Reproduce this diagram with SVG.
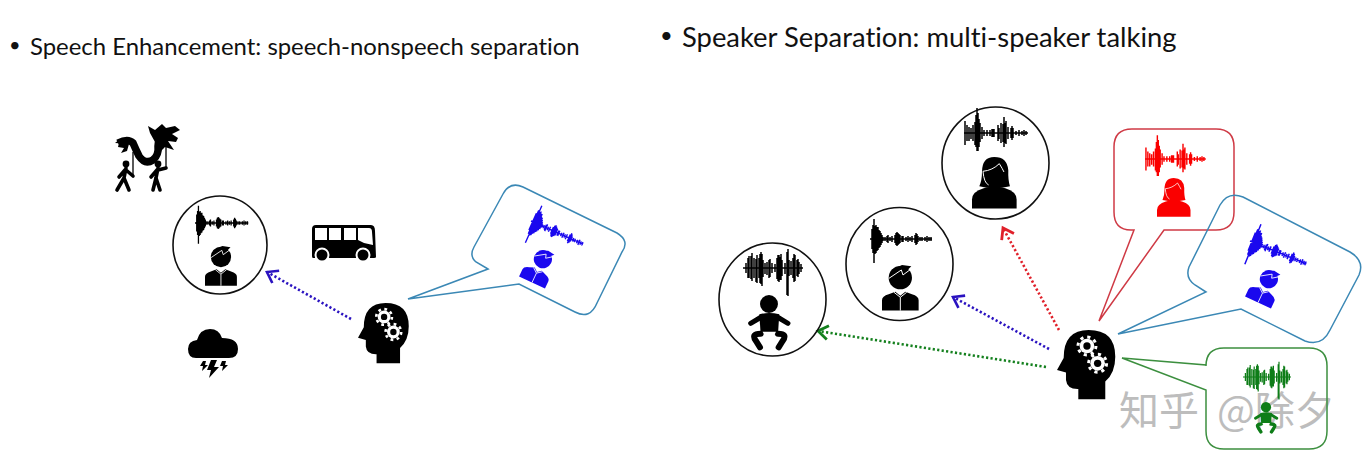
<svg xmlns="http://www.w3.org/2000/svg" width="1366" height="466" viewBox="0 0 1366 466">
<style>
text{font-family:"Lato","Open Sans","Liberation Sans",sans-serif;fill:#111;font-variant-ligatures:none}
.ring{fill:none;stroke:#111;stroke-width:1.6}
.bub{fill:#fff;stroke-width:1.5}
.b{stroke:#3b88b5}.r{stroke:#cf3a45}.g{stroke:#3c8f3f}
.dot{fill:none;stroke-width:2.6;stroke-dasharray:2.2 2.3}
.wv{fill:none;stroke-width:1.5}
.wm{font-family:"Noto Sans CJK SC",sans-serif;font-size:40px;fill:#bdbdbd}
</style>
<defs>
<marker id="ab" markerUnits="userSpaceOnUse" markerWidth="20" markerHeight="20" refX="11" refY="10" orient="auto"><path d="M1,3L11,10L1,17" fill="none" stroke="#2a12c0" stroke-width="2.6"/></marker>
<marker id="ar" markerUnits="userSpaceOnUse" markerWidth="20" markerHeight="20" refX="11" refY="10" orient="auto"><path d="M1,3L11,10L1,17" fill="none" stroke="#e0202a" stroke-width="2.8"/></marker>
<marker id="ag" markerUnits="userSpaceOnUse" markerWidth="20" markerHeight="20" refX="11" refY="10" orient="auto"><path d="M1,3L11,10L1,17" fill="none" stroke="#14801e" stroke-width="2.8"/></marker>
<path id="wman" class="wv" d="M0,0H62 M2,-10V10 M3,-14V14 M4,-20V24 M5,-13V15 M6,-14V14 M7,-12V12 M8,-12V11 M9,-9V9 M10,-8V8 M11,-6V6 M12,-4V4 M13,-2V2 M15,-2V2 M17,-3V3 M18,-4V4 M20,-2V2 M22,-3V3 M25,-4V4 M26,-6V6 M27,-7V7 M28,-6V6 M29,-5V5 M30,-4V4 M32,-3V3 M33,-3V3 M36,-2V2 M38,-3V3 M40,-2V2 M42,-3V3 M45,-4V4 M46,-6V6 M47,-5V5 M48,-3V3 M50,-2V2 M52,-2V2 M55,-2V2 M57,-3V3 M59,-2V2 M61,-2V2"/>
<path id="wwoman" class="wv" d="M0,0H64 M1,-12V12 M3,-8V8 M5,-6V8 M7,-5V6 M9,-8V8 M11,-11V12 M12,-18V14 M13,-25V18 M14,-20V18 M15,-14V14 M16,-10V9 M18,-6V6 M20,-3V3 M23,-3V3 M26,-3V3 M28,-4V4 M29,-4V4 M30,-4V4 M34,-8V8 M35,-5V6 M37,-10V10 M39,-9V9 M40,-16V14 M41,-10V10 M42,-12V11 M44,-6V6 M47,-5V5 M48,-7V7 M49,-5V5 M52,-2V2 M55,-3V3 M58,-2V2 M60,-3V3 M62,-2V2"/>
<path id="wbaby" class="wv" d="M0,0H60 M3,-5V5 M5,-10V10 M6,-12V10 M8,-12V11 M9,-15V13 M11,-10V10 M13,-9V14 M14,-13V15 M16,-10V10 M17,-14V15 M18,-16V16 M19,-14V18 M20,-8V9 M22,-5V6 M24,-6V7 M26,-8V10 M27,-9V9 M29,-5V5 M32,-4V4 M34,-10V11 M35,-13V13 M36,-13V14 M37,-11V12 M38,-14V12 M39,-8V8 M42,-5V6 M44,-16V27 M45,-19V28 M46,-8V8 M48,-7V7 M50,-10V10 M51,-14V14 M52,-13V13 M54,-8V8 M55,-9V9 M56,-6V6 M58,-4V4"/>
<g id="man"><circle cx="55" cy="38" r="35"/><path d="M26,16L60,0L88,4L76,16Z"/><path d="M21,40L58,15L63,30L90,10" fill="none" stroke="#fff" stroke-width="3"/><path d="M0,137V106Q0,94 20,88L40,80L55,92L70,80L90,88Q110,94 110,106V137Z"/><path d="M36,82L55,97L74,82M55,97V137" fill="none" stroke="#fff" stroke-width="3"/></g>
<g id="woman"><path d="M30,45Q30,0 67,0Q106,0 109,40Q108,70 114,88L90,92H44L22,88Q30,70 30,45Z"/><path d="M0,155V128Q0,104 35,94L67,86L100,94Q134,104 134,128V155Z"/><path d="M33,43Q62,40 82,20Q92,36 96,45M33,43Q36,78 50,84" fill="none" stroke="#fff" stroke-width="3"/></g>
<g id="baby"><circle cx="63" cy="27" r="27"/><path d="M8,85L40,66M120,85L88,66" fill="none" stroke="currentColor" stroke-width="15" stroke-linecap="round"/><path d="M34,58Q63,50 94,58L90,118H38Z"/><path d="M38,116Q8,116 24,138L36,157M90,116Q120,116 104,138L92,157" fill="none" stroke="currentColor" stroke-width="18" stroke-linecap="round"/><path d="M44,110H84L70,140H58Z" fill="#fff"/></g>
<g id="gear"><circle r="22" fill="#fff"/><circle r="27" fill="none" stroke="#fff" stroke-width="9" stroke-dasharray="9.5 11.7"/><circle r="11" fill="#000"/></g>
<g id="head"><path d="M64,208V177Q30,178 27,150V128L0,120L20,84Q20,0 95,0Q175,0 175,80Q175,128 145,155V208Z" fill="#000"/><use href="#gear" transform="translate(90,48)"/><use href="#gear" transform="translate(122,100)"/></g>
</defs>
<g id="title-left"><text x="9" y="52" font-size="20">•</text><text x="30" y="55" font-size="23.9">Speech Enhancement: speech-nonspeech separation</text></g>
<g id="title-right"><text x="660" y="43" font-size="22">•</text><text x="682" y="47" font-size="27.4">Speaker Separation: multi-speaker talking</text></g>
<g id="connectors">
<path class="dot" stroke="#2a12c0" marker-end="url(#ab)" d="M351,319L267,272"/>
<path class="dot" stroke="#e0202a" marker-end="url(#ar)" d="M1059,330L1003,228"/>
<path class="dot" stroke="#2a12c0" marker-end="url(#ab)" d="M1049,349L953,297"/>
<path class="dot" stroke="#14801e" marker-end="url(#ag)" d="M1046,367L818,331"/>
</g>
<g id="dragon-dance">
<path d="M118,143Q128,138 133,143Q136,150 139,156Q145,165 153,160Q159,155 158,146Q158,140 163,136" fill="none" stroke="#000" stroke-width="7.5"/>
<path d="M150,133L148,126L155,130L162,124L166,128L175,126L180,130L172,134L178,138L176,142L168,141L174,150L165,147L160,152L155,142Z"/>
<path d="M115,143L120,139L118,147L124,148L121,153L127,151L129,144Z"/>
<path d="M133,152V177M166,143V167" fill="none" stroke="#000" stroke-width="1.3"/>
<circle cx="126" cy="164" r="3.4"/><circle cx="158" cy="164" r="3.4"/>
<path d="M126,168L124,178L117,190M124,178L129,190M126,170L133,176M125,170L119,177" fill="none" stroke="#000" stroke-width="3.6" stroke-linecap="round"/>
<path d="M158,168L156,178L153,190M156,178L160,190M158,170L166,168M157,170L151,177" fill="none" stroke="#000" stroke-width="3.6" stroke-linecap="round"/>
</g>
<g id="person-left"><ellipse class="ring" cx="220" cy="245" rx="47" ry="49"/><use href="#wman" stroke="#000" transform="translate(195,223) scale(.86)"/><use href="#man" fill="#000" transform="translate(205,246) scale(.29)"/></g>
<g id="bus"><path d="M316,225H371Q375,225 375,231L376,257Q376,258 374,258H313Q312,258 312,256V229Q312,225 316,225Z"/><path d="M315,228H327V240H315ZM329,228H341V240H329ZM344,228H356V240H344ZM358,228H369Q372,228 372,232L373,245L364,243L358,240Z" fill="#fff"/><circle cx="322" cy="255" r="6.5" fill="#000" stroke="#fff" stroke-width="2"/><circle cx="363" cy="255" r="6.5" fill="#000" stroke="#fff" stroke-width="2"/></g>
<g id="storm"><path d="M196,358Q188,358 188,349Q188,341 197,340Q200,329 210,329Q219,329 222,338Q238,338 238,349Q238,358 229,358Z"/><path d="M211,360H217L214,367H219L209,378L211,370H207Z M203,361H206L205,365H208L202,371L203,366H200Z M222,361H226L225,365H228L222,371L223,366H220Z"/></g>
<g id="listener-left"><use href="#head" transform="translate(358,303) scale(.29)"/></g>
<g id="bubble-left"><path class="bub b" d="M488,269L476,262Q469,256 474,247L503,194Q510,181 523,187L617,233Q630,241 622,252L597,303Q590,320 575,312L519,284L408,299Z"/><use href="#wman" stroke="#1a08ee" transform="translate(531,221) rotate(24) scale(.92)"/><use href="#man" fill="#1a08ee" transform="translate(543,259) rotate(25) scale(.26) translate(-55,-37)"/></g>
<g id="person-baby"><ellipse class="ring" cx="772.5" cy="299.5" rx="53.5" ry="56.5"/><use href="#wbaby" stroke="#000" transform="translate(743,268)"/><use href="#baby" fill="#000" color="#000" transform="translate(748,295) scale(.333)"/></g>
<g id="person-man"><ellipse class="ring" cx="899.5" cy="264" rx="53.5" ry="56.5"/><use href="#wman" stroke="#000" transform="translate(870,239)"/><use href="#man" fill="#000" transform="translate(882,265) scale(.333)"/></g>
<g id="person-woman"><ellipse class="ring" cx="995.5" cy="163" rx="53.5" ry="56"/><use href="#wwoman" stroke="#000" transform="translate(964,133)"/><use href="#woman" fill="#000" transform="translate(972,157) scale(.333)"/></g>
<g id="bubble-red"><path class="bub r" d="M1134,230H1131Q1114,230 1114,212V147Q1114,129 1132,129H1216Q1234,129 1234,147V212Q1234,230 1216,230H1164L1099,321Z"/><use href="#wwoman" stroke="#fa0000" transform="translate(1145,159) scale(.95)"/><use href="#woman" fill="#fa0000" transform="translate(1157,178) scale(.25)"/></g>
<g id="bubble-blue"><path class="bub b" style="fill:none" d="M1206,292L1195,285Q1185,278 1189,267L1220,205Q1228,191 1243,197L1350,252Q1365,261 1359,275L1330,330Q1322,347 1305,341L1241,309L1118,334Z"/><use href="#wman" stroke="#1a08ee" transform="translate(1250,241) rotate(22) scale(.98)"/><use href="#man" fill="#1a08ee" transform="translate(1269,279) rotate(25) scale(.26) translate(-55,-37)"/></g>
<g id="listener-right"><use href="#head" transform="translate(1057,330) scale(.333)"/></g>
<g id="watermark"><text class="wm" x="1119" y="425">知乎</text><text class="wm" x="1217" y="425">@除夕</text></g>
<g id="bubble-green"><path class="bub g" style="fill:none" d="M1206,365V366Q1206,348 1224,348H1309Q1327,348 1327,366V431Q1327,449 1309,449H1224Q1206,449 1206,431V390L1122,358Z"/><use href="#wbaby" stroke="#0e7d18" transform="translate(1243,377) scale(.8)"/><use href="#baby" fill="#0e7d18" color="#0e7d18" transform="translate(1254,402) scale(.19)"/></g>
</svg>
